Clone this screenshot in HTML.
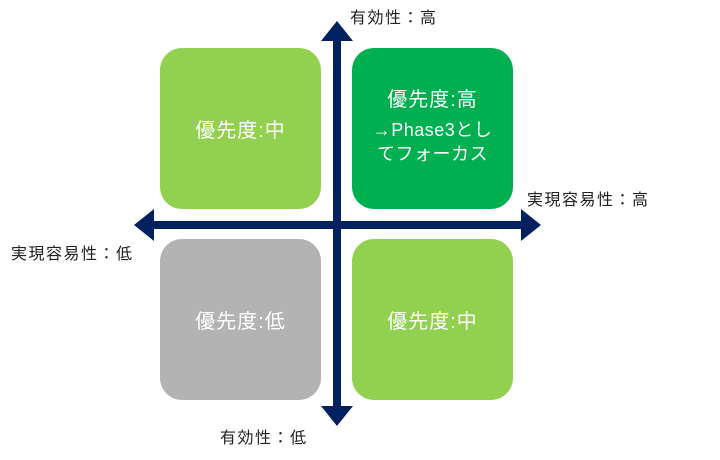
<!DOCTYPE html>
<html><head><meta charset="utf-8"><style>
body{margin:0;width:720px;height:460px;background:#fff;position:relative;overflow:hidden;font-family:"Liberation Sans","Noto Sans CJK JP",sans-serif}
.b{position:absolute;width:161px;height:161px;border-radius:22px;color:#fff;display:flex;flex-direction:column;align-items:center;justify-content:center;font-size:20px;text-align:center;letter-spacing:1px}
.l{position:absolute;font-size:16px;color:#222;white-space:nowrap;letter-spacing:1.5px}
</style></head><body>
<div class="b" style="left:160px;top:48px;background:#92d050">優先度:中</div>
<div class="b" style="left:352px;top:48px;background:#00b050"><div style="margin-top:-8px">優先度:高</div><div style="font-size:18px;line-height:24px;margin-top:6px;letter-spacing:0.5px">→Phase3とし<br>てフォーカス</div></div>
<div class="b" style="left:160px;top:239px;background:#b3b3b3">優先度:低</div>
<div class="b" style="left:352px;top:239px;background:#92d050">優先度:中</div>
<svg style="position:absolute;left:0;top:0" width="720" height="460">
<rect x="333" y="38" width="8" height="370" fill="#002060"/>
<polygon points="337,21 321,41 353,41" fill="#002060"/>
<polygon points="337,426 321,406 353,406" fill="#002060"/>
<rect x="150" y="221" width="375" height="8" fill="#002060"/>
<polygon points="134,225 154,209 154,241" fill="#002060"/>
<polygon points="541,225 521,209 521,241" fill="#002060"/>
</svg>
<div class="l" style="left:350px;top:4px">有効性：高</div>
<div class="l" style="left:220px;top:424px">有効性：低</div>
<div class="l" style="left:527px;top:186px">実現容易性：高</div>
<div class="l" style="left:11px;top:240px">実現容易性：低</div>
</body></html>
